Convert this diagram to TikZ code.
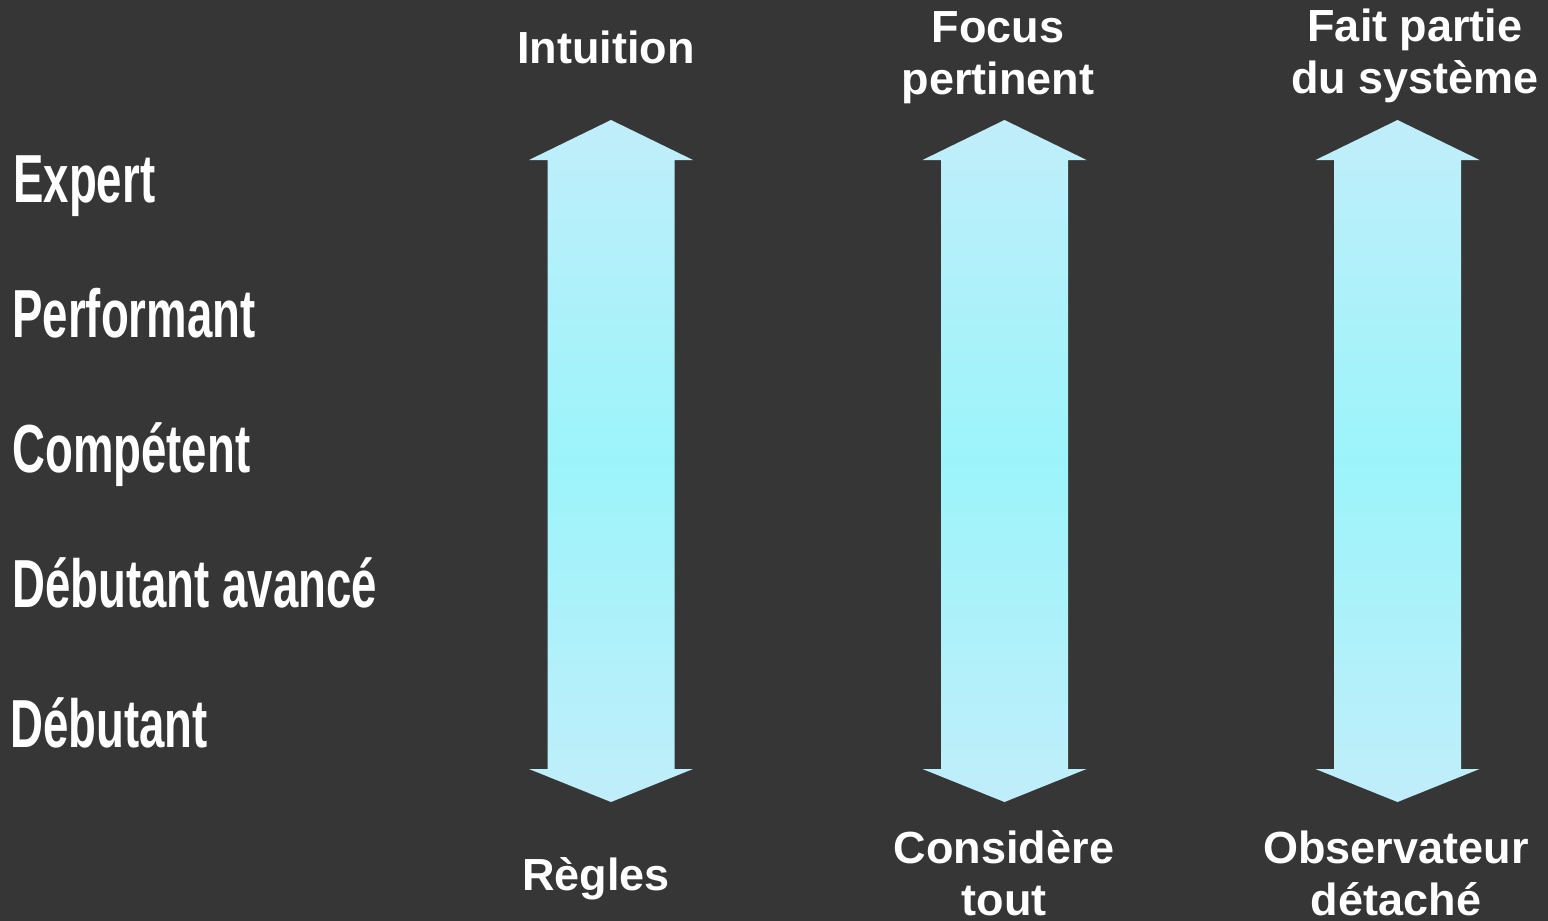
\documentclass[tikz,border=0pt]{standalone}
\usepackage{fontspec}
\setmainfont{Liberation Sans}
\newfontfamily\condfont[FakeStretch=0.67]{Liberation Sans}
\definecolor{bg}{HTML}{363636}
\definecolor{arrowend}{HTML}{C0EEFA}
\definecolor{arrowmid}{HTML}{9CF4FA}
\begin{document}
\begin{tikzpicture}[x=0.5pt,y=-0.5pt,
  toplabel/.style={text=white, font=\bfseries\fontsize{22.5}{26}\selectfont, align=center, inner sep=0, anchor=base},
  level/.style={text=white, font=\condfont\bfseries\fontsize{34}{40}\selectfont, anchor=base west, inner sep=0},
  bigarrow/.style={top color=arrowend, bottom color=arrowend, middle color=arrowmid}]
\fill[bg] (0,0) rectangle (1548,921);
\useasboundingbox (0,0) rectangle (1548,921);
\foreach \cx in {611,1004.5,1397.5}{
  \path[bigarrow, shift={(\cx,0)}] (0,120) -- (82,160) -- (63.5,160) -- (63.5,769) -- (82,769) -- (0,802)
    -- (-82,769) -- (-63.5,769) -- (-63.5,160) -- (-82,160) -- cycle;
}
\node[level] (expert) at (13,202) {Expert};
\node[level] (performant) at (12,337) {Performant};
\node[level] (competent) at (12,472) {Compétent};
\node[level] (avance) at (12,607) {Débutant avancé};
\node[level] (debutant) at (10,747) {Débutant};
\node[toplabel] (intuition) at (606,63) {Intuition};
\node[toplabel] (focus) at (998,94) {Focus\\pertinent};
\node[toplabel] (fait) at (1415,93) {Fait partie\\du système};
\node[toplabel] (regles) at (596,890) {Règles};
\node[toplabel] (considere) at (1004,915) {Considère\\tout};
\node[toplabel] (observateur) at (1396,915) {Observateur\\détaché};
\end{tikzpicture}
\end{document}
